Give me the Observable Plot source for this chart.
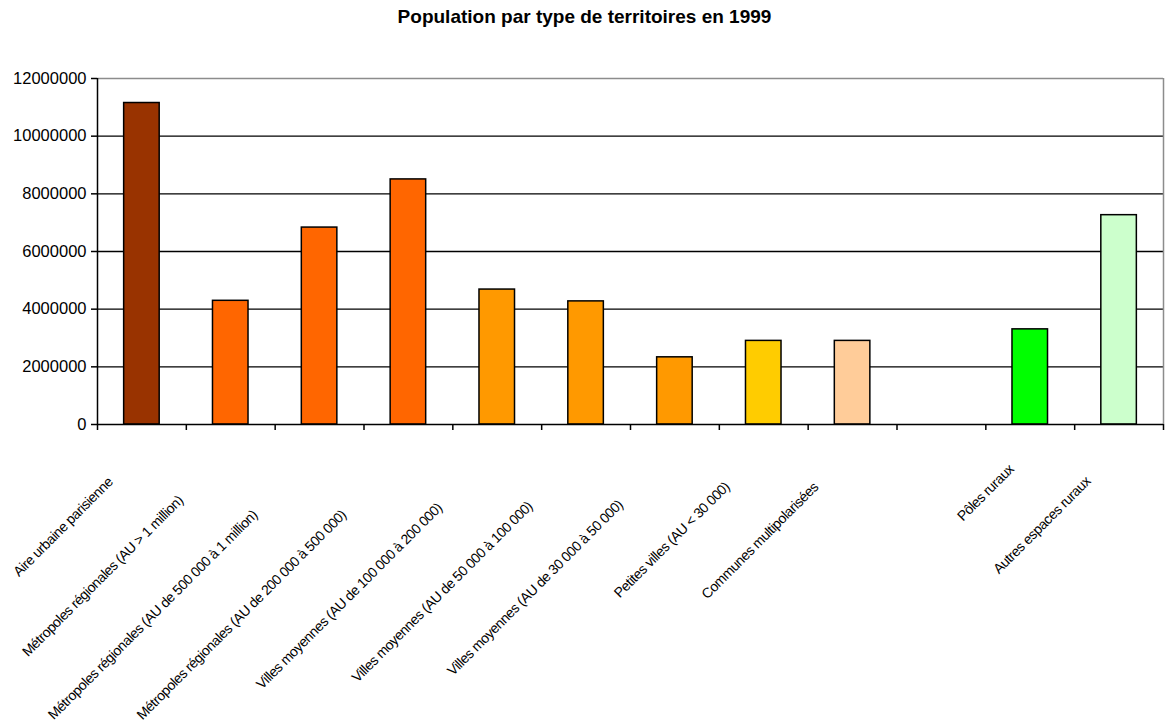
<!DOCTYPE html>
<html>
<head>
<meta charset="utf-8">
<script src="https://cdn.jsdelivr.net/npm/d3@7"></script>
<script src="https://cdn.jsdelivr.net/npm/@observablehq/plot@0.6"></script>
<style>
  body { margin: 0; background: #fff; font-family: "Liberation Sans", Arial, sans-serif; }
  #title { height: 40px; box-sizing: border-box; padding-top: 6px; text-align: center;
           font-weight: bold; font-size: 19px; color: #000; }
  #chart svg { display: block; overflow: visible; }
</style>
</head>
<body>
<div id="title">Population par type de territoires en 1999</div>
<div id="chart"></div>
<script>
// Territory types (a blank slot separates urban from rural spaces)
const categories = [
  "Aire urbaine parisienne",
  "Métropoles régionales (AU > 1 million)",
  "Métropoles régionales (AU de 500 000 à 1 million)",
  "Métropoles régionales (AU de 200 000 à 500 000)",
  "Villes moyennes (AU de 100 000 à 200 000)",
  "Villes moyennes (AU de 50 000 à 100 000)",
  "Villes moyennes (AU de 30 000 à 50 000)",
  "Petites villes (AU < 30 000)",
  "Communes multipolarisées",
  " ",
  "Pôles ruraux",
  "Autres espaces ruraux"
];

// Population in 1999
const populations = [
  11150000, 4290000, 6830000, 8500000, 4680000, 4270000,
  2330000, 2900000, 2900000, null, 3300000, 7260000
];

const colors = [
  "#993300", "#FF6600", "#FF6600", "#FF6600", "#FF9900", "#FF9900",
  "#FF9900", "#FFCC00", "#FFCC99", "#FFFFFF", "#00FF00", "#CCFFCC"
];

const yTicks = [0, 2000000, 4000000, 6000000, 8000000, 10000000, 12000000];

const bars = categories
  .map((category, i) => ({category, population: populations[i], color: colors[i]}))
  .filter(d => d.population != null);
const labels = categories.filter(c => c.trim() !== "");

const width = 1169, height = 686;
const marginLeft = 97, marginRight = 6;
const step = (width - marginLeft - marginRight) / categories.length;

const chart = Plot.plot({
  width, height,
  marginTop: 38, marginBottom: 302, marginLeft, marginRight,
  style: {fontFamily: "'Liberation Sans', Arial, sans-serif", fontSize: "13px", color: "#000", background: "#fff", overflow: "visible"},
  x: {domain: categories, paddingInner: 0.6, paddingOuter: 0.3, round: false, axis: null},
  y: {domain: [0, 12000000], axis: null},
  marks: [
    // horizontal gridlines
    Plot.gridY(yTicks.filter(t => t > 0 && t < 12000000), {stroke: "#000", strokeOpacity: 1, strokeWidth: 1.3}),
    // plot area border (top and right)
    Plot.ruleY([12000000], {stroke: "#8c8c8c", strokeWidth: 1.5}),
    Plot.ruleX([categories[categories.length - 1]], {dx: step / 2, y1: 0, y2: 12000000, stroke: "#8c8c8c", strokeWidth: 1.5}),
    // bars
    Plot.barY(bars, {x: "category", y: "population", fill: "color", stroke: "#000", strokeWidth: 1.5}),
    // axis lines
    Plot.ruleY([0], {stroke: "#000", strokeWidth: 1.5}),
    Plot.ruleX([categories[0]], {dx: -step / 2, y1: 0, y2: 12000000, stroke: "#000", strokeWidth: 1.5}),
    // y axis ticks and labels
    Plot.axisY(yTicks, {tickSize: 6, tickPadding: 5, tickFormat: d3.format("d"), fontSize: 16.5, label: null, stroke: "#000", strokeWidth: 1.5}),
    // x tick marks on category boundaries
    Plot.axisX(categories, {tickSize: 6, tickFormat: () => "", dx: -step / 2, label: null, stroke: "#000", strokeWidth: 1.5}),
    Plot.axisX([categories[categories.length - 1]], {tickSize: 6, tickFormat: () => "", dx: step / 2, label: null, stroke: "#000", strokeWidth: 1.5}),
    // rotated category labels
    Plot.text(labels, {x: d => d, y: 0, text: d => d, rotate: -45, textAnchor: "end", lineAnchor: "bottom", dy: 30, fontSize: 14, fill: "#000"})
  ]
});

document.getElementById("chart").appendChild(chart);

// Condensed label lettering, and each rotated label slid along its own baseline
chart.querySelectorAll("text").forEach(t => {
  if (labels.includes(t.textContent)) {
    t.setAttribute("letter-spacing", "-0.45");
    const len = t.getComputedTextLength();
    t.setAttribute("dx", -0.3 * len);
  }
});
</script>
</body>
</html>
